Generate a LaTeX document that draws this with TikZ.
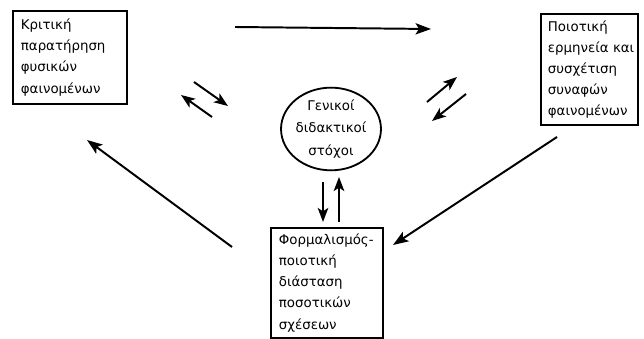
\documentclass[tikz,border=0pt]{standalone}
\usepackage{fontspec}
\setmainfont{DejaVu Sans}
\usetikzlibrary{arrows.meta,shapes.geometric}
\begin{document}
\begin{tikzpicture}[x=0.025cm,y=-0.025cm,
		box/.style={draw,line width=1.3pt,align=left,anchor=north west,inner ysep=0pt,
			font=\fontsize{9.5}{15}\selectfont},
		goal/.style={draw,ellipse,line width=1.3pt,align=center,inner sep=0pt,
			font=\fontsize{9.5}{16}\selectfont},
		link/.style={line width=1.4pt,-{Stealth[length=11pt,width=8pt,inset=2.5pt]}},
		pair/.style={line width=1.4pt,-{Stealth[length=10pt,width=7.5pt,inset=2.5pt]}}]
		\useasboundingbox (0,0) rectangle (644,339);
		\node[box,text width=2.45cm,inner xsep=0.2cm,minimum height=2.325cm] (obs) at (12,10)
			{Κριτική\\παρατήρηση\\φυσικών\\φαινομένων};
		\node[box,text width=2.075cm,inner xsep=0.175cm,minimum height=2.775cm] (interp) at (540,13)
			{Ποιοτική\\ερμηνεία~και\\συσχέτιση\\συναφών\\φαινομένων};
		\node[box,text width=2.4cm,inner xsep=0.2cm,minimum height=2.75cm] (formal) at (270,227)
			{Φορμαλισμός-\\ποιοτική\\διάσταση\\ποσοτικών\\σχέσεων};
		\node[goal,minimum width=2.325cm,minimum height=1.95cm] (goals) at (331,129)
			{Γενικοί\\διδακτικοί\\στόχοι};
		% main cycle
		\coordinate (T0) at (235,27);
		\coordinate (T1) at (431,29);
		\coordinate (R0) at (557,137);
		\coordinate (R1) at (393,245);
		\coordinate (L0) at (232,247);
		\coordinate (L1) at (87,140);
		\draw[link] (T0) -- (T1);
		\draw[link] (R0) -- (R1);
		\draw[link] (L0) -- (L1);
		% exchanges with the goals
		\coordinate (A0) at (194,82);
		\coordinate (A1) at (228,106);
		\coordinate (B0) at (212,117);
		\coordinate (B1) at (181,95);
		\coordinate (C0) at (427,102);
		\coordinate (C1) at (457,77);
		\coordinate (D0) at (466,94);
		\coordinate (D1) at (432,121);
		\coordinate (E0) at (323,182);
		\coordinate (E1) at (323,222);
		\coordinate (F0) at (339,222);
		\coordinate (F1) at (339,177);
		\draw[pair] (A0) -- (A1);
		\draw[pair] (B0) -- (B1);
		\draw[pair] (C0) -- (C1);
		\draw[pair] (D0) -- (D1);
		\draw[pair] (E0) -- (E1);
		\draw[pair] (F0) -- (F1);
\end{tikzpicture}
\end{document}
